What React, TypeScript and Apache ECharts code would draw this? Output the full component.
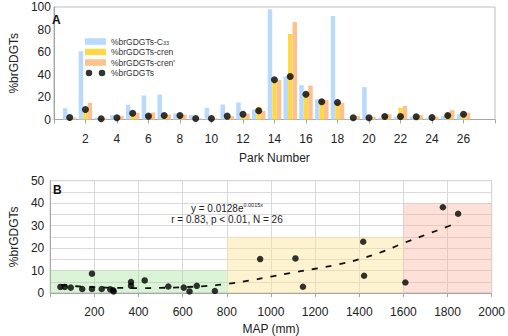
import React, { useEffect, useRef } from "react";
import * as echarts from "echarts";

const parkCategories = Array.from({ length: 29 }, (_, i) => String(i));
const c33Values = [10, 60.7, 1.5, 3.9, 13, 21.3, 22.2, 5.3, 3.9, 10.4, 13.3, 15.1, 8.9, 98, 38.2, 30.5, 18, 92, 0.5, 28.7, 1.5, 2.4, 2.4, 1, 3, 4.7];
const crenValues = [1, 8, 1, 1.5, 5, 4, 3, 3, 0.5, 0.5, 2, 3.5, 11.3, 35, 76, 23, 18, 14.8, 0.5, 1, 4.4, 10.4, 2, 1.5, 6, 5];
const crenPrimeValues = [1.8, 14.8, 1, 3, 6, 6.2, 4.4, 4.4, 1, 1, 3, 5.3, 7.7, 35, 86.5, 30, 17.5, 14.8, 3, 2.4, 4.7, 12.1, 3.9, 2.4, 8.3, 6];
const brGDGTsValues = [1.8, 8.9, 0.6, 1.5, 5.6, 3, 3.6, 3.6, 0.9, 0.9, 3, 4.7, 7.7, 35.3, 38.2, 22.5, 15.7, 15.1, 1.5, 1.5, 2.7, 2.7, 2.4, 1.8, 3.6, 4.7];

const mapValues = [46, 66, 93, 145, 189, 189, 233, 272, 287, 285, 366, 366, 428, 535, 605, 631, 664, 746, 951, 1111, 1145, 1418, 1422, 1609, 1779, 1848];
const mapPctValues = [2.7, 2.7, 2.4, 1.8, 8.6, 1.8, 1.8, 1.6, 0.7, 1.2, 4.9, 3.2, 5.6, 2.9, 2.4, 0.7, 3.2, 0.9, 15.1, 15.4, 2.8, 22.8, 7.7, 4.7, 38.2, 35.3];

const fitX = [50, 120, 200, 300, 400, 500, 600, 700, 800, 900, 1000, 1100, 1200, 1300, 1400, 1500, 1600, 1700, 1800, 1848];
const fitY = [3.6, 3.0, 2.6, 2.3, 2.2, 2.3, 2.6, 3.1, 4.0, 5.5, 7.3, 9.1, 10.8, 12.6, 15.0, 18.2, 22.2, 25.9, 29.6, 31.6];

const zoneGreen = [0, 800, 10];
const zoneYellow = [800, 1600, 25];
const zoneRed = [1600, 2000, 40];

const FONT = "'Liberation Sans', Arial, sans-serif";

function padParks(vals: number[]) {
  return [null, ...vals, null, null];
}

export default function App() {
  const ref = useRef<HTMLDivElement>(null);
  useEffect(() => {
    document.body.style.margin = "0";
    const chart = echarts.init(ref.current!, null, { renderer: "svg" });
    const axisGray = "#a6a6a6";
    const option: any = {
      animation: false,
      textStyle: { fontFamily: FONT },
      title: [
        { text: "A", left: 52, top: 14, padding: 0, textStyle: { fontSize: 12, fontWeight: "bold", color: "#111", fontFamily: FONT } },
        { text: "B", left: 53, top: 184, padding: 0, textStyle: { fontSize: 12, fontWeight: "bold", color: "#111", fontFamily: FONT } },
      ],
      legend: {
        orient: "vertical",
        left: 80,
        top: 32,
        itemWidth: 21,
        itemHeight: 6.5,
        itemGap: 1.5,
        textStyle: {
          fontSize: 8.5,
          lineHeight: 9,
          color: "#333",
          fontFamily: FONT,
          rich: {
            a: { fontSize: 8.5, lineHeight: 9, color: "#333", fontFamily: FONT },
            s: { fontSize: 5.5, lineHeight: 9, color: "#333", fontFamily: FONT, padding: [3, 0, 0, 0] },
          },
        },
        formatter: (name: string) => (name === "%brGDGTs-C33" ? "{a|%brGDGTs-C}{s|33}" : name),
        data: [
          { name: "%brGDGTs-C33", icon: "rect" },
          { name: "%brGDGTs-cren", icon: "rect" },
          { name: "%brGDGTs-cren'", icon: "rect" },
          {
            name: "%brGDGTs",
            icon: "path://M0,3.5a3.5,3.5 0 1,0 7,0a3.5,3.5 0 1,0 -7,0zM14,3.5a3.5,3.5 0 1,0 7,0a3.5,3.5 0 1,0 -7,0z",
          },
        ],
      },
      grid: [
        { left: 43, top: 7, right: 13, height: 112.5, show: true, borderColor: "#bdbdbd", borderWidth: 1 },
        { left: 42.3, top: 180.7, right: 13.7, height: 112.6, show: true, borderColor: "#bdbdbd", borderWidth: 1 },
      ],
      xAxis: [
        {
          gridIndex: 0,
          type: "category",
          data: parkCategories,
          boundaryGap: false,
          name: "Park Number",
          nameLocation: "middle",
          nameGap: 32,
          nameTextStyle: { fontSize: 12, color: "#222" },
          axisLine: { lineStyle: { color: axisGray } },
          axisTick: { interval: (i: number) => i % 2 === 0, length: 4, lineStyle: { color: axisGray } },
          axisLabel: {
            interval: 0,
            margin: 13,
            fontSize: 12,
            color: "#222",
            formatter: (v: string) => {
              const n = Number(v);
              return n % 2 === 0 && n > 0 && n < 28 ? v : "";
            },
          },
          splitLine: { show: false },
        },
        {
          gridIndex: 1,
          type: "value",
          min: 0,
          max: 2000,
          interval: 200,
          name: "MAP (mm)",
          nameLocation: "middle",
          nameGap: 30,
          nameTextStyle: { fontSize: 12, color: "#222" },
          axisLine: { lineStyle: { color: axisGray } },
          axisTick: { show: true, length: 4, lineStyle: { color: axisGray } },
          axisLabel: {
            margin: 13,
            fontSize: 12,
            color: "#222",
            formatter: (v: number) => (v === 0 ? "" : String(v)),
          },
          splitLine: { show: true, lineStyle: { color: "#d9d9d9" } },
        },
      ],
      yAxis: [
        {
          gridIndex: 0,
          type: "value",
          min: 0,
          max: 100,
          interval: 20,
          name: "%brGDGTs",
          nameLocation: "middle",
          nameGap: 27,
          nameTextStyle: { fontSize: 12, color: "#222" },
          axisLine: { show: true, lineStyle: { color: axisGray } },
          axisTick: { show: false },
          axisLabel: { fontSize: 12, color: "#222", margin: 3 },
          splitLine: { show: false },
        },
        {
          gridIndex: 1,
          type: "value",
          min: 0,
          max: 50,
          interval: 5,
          name: "%brGDGTs",
          nameLocation: "middle",
          nameGap: 27,
          nameTextStyle: { fontSize: 12, color: "#222" },
          axisLine: { show: true, lineStyle: { color: axisGray } },
          axisTick: { show: false },
          axisLabel: {
            fontSize: 12,
            color: "#222",
            margin: 6,
            formatter: (v: number) => (v % 10 === 0 ? String(v) : ""),
          },
          splitLine: { show: true, lineStyle: { color: "#d9d9d9" } },
        },
      ],
      graphic: [
        {
          type: "text",
          x: 227,
          y: 208,
          z: 10,
          style: {
            text: "{m|y = 0.0128e}{e|0.0015x}",
            align: "center",
            verticalAlign: "middle",
            rich: {
              m: { fontSize: 10, fontFamily: FONT, fill: "#222" },
              e: { fontSize: 5.5, fontFamily: FONT, fill: "#222", padding: [0, 0, 6, 0] },
            },
          },
        },
        {
          type: "text",
          x: 227,
          y: 219,
          z: 10,
          style: {
            text: "r = 0.83, p < 0.01, N = 26",
            align: "center",
            verticalAlign: "middle",
            fontSize: 10,
            fontFamily: FONT,
            fill: "#222",
          },
        },
      ],
      series: [
        {
          name: "%brGDGTs-C33",
          type: "bar",
          xAxisIndex: 0,
          yAxisIndex: 0,
          data: padParks(c33Values),
          barWidth: 4.5,
          barGap: "0%",
          itemStyle: { color: "#b9dafa" },
        },
        {
          name: "%brGDGTs-cren",
          type: "bar",
          xAxisIndex: 0,
          yAxisIndex: 0,
          data: padParks(crenValues),
          barWidth: 4.5,
          barGap: "0%",
          itemStyle: { color: "#ffd84a" },
        },
        {
          name: "%brGDGTs-cren'",
          type: "bar",
          xAxisIndex: 0,
          yAxisIndex: 0,
          data: padParks(crenPrimeValues),
          barWidth: 4.5,
          barGap: "0%",
          itemStyle: { color: "#fbc28d" },
        },
        {
          name: "%brGDGTs",
          type: "scatter",
          xAxisIndex: 0,
          yAxisIndex: 0,
          data: padParks(brGDGTsValues),
          symbolSize: 7,
          itemStyle: { color: "#000" },
          z: 5,
        },
        {
          name: "zones",
          type: "line",
          xAxisIndex: 1,
          yAxisIndex: 1,
          data: [],
          z: -1,
          markArea: {
            silent: true,
            data: [
              [{ xAxis: zoneGreen[0], yAxis: 0, itemStyle: { color: "rgba(160,225,150,0.38)" } }, { xAxis: zoneGreen[1], yAxis: zoneGreen[2] }],
              [{ xAxis: zoneYellow[0], yAxis: 0, itemStyle: { color: "rgba(250,228,150,0.45)" } }, { xAxis: zoneYellow[1], yAxis: zoneYellow[2] }],
              [{ xAxis: zoneRed[0], yAxis: 0, itemStyle: { color: "rgba(250,175,155,0.38)" } }, { xAxis: zoneRed[1], yAxis: zoneRed[2] }],
            ],
          },
        },
        {
          name: "fit",
          type: "line",
          xAxisIndex: 1,
          yAxisIndex: 1,
          data: fitX.map((x, i) => [x, fitY[i]]),
          smooth: true,
          showSymbol: false,
          lineStyle: { color: "#111", width: 1.8, type: [6, 8] },
          z: 3,
        },
        {
          name: "MAP points",
          type: "scatter",
          xAxisIndex: 1,
          yAxisIndex: 1,
          data: mapValues.map((x, i) => [x, mapPctValues[i]]),
          symbolSize: 6.5,
          itemStyle: { color: "#000" },
          z: 5,
        },
      ],
    };
    chart.setOption(option);
    return () => chart.dispose();
  }, []);
  return <div ref={ref} style={{ width: 508, height: 336 }} />;
}
